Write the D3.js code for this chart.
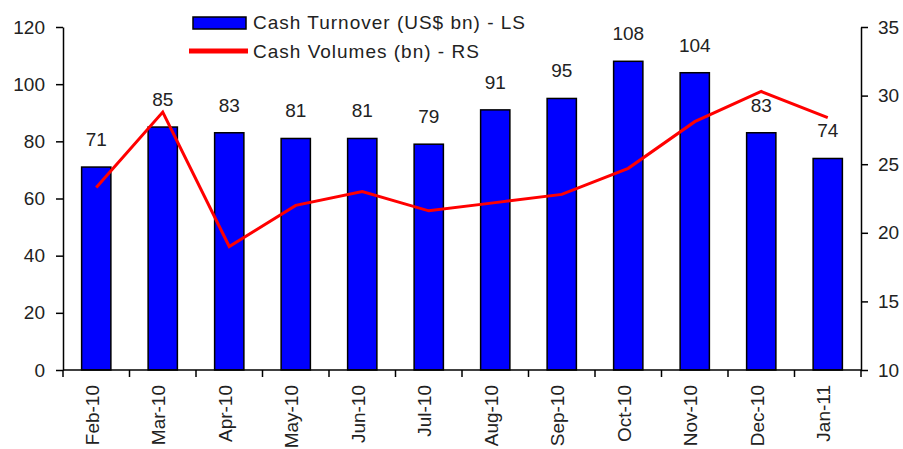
<!DOCTYPE html>
<html lang="en">
<head>
    <meta charset="UTF-8">
    <title>Cash Turnover vs Cash Volumes</title>
    <script src="https://cdn.jsdelivr.net/npm/d3@7"></script>
    <style>
        body {
            margin: 0;
            background: #fff;
        }

        svg text {
            font-family: "Liberation Sans", Arial, sans-serif;
            font-size: 19px;
            fill: #222;
        }

        .axis path, .axis line {
            stroke: #000;
            stroke-width: 1.5px;
        }
    </style>
</head>
<body>
<svg id="chart" width="903" height="449"></svg>
<script>
    var months = ['Feb-10', 'Mar-10', 'Apr-10', 'May-10', 'Jun-10', 'Jul-10',
        'Aug-10', 'Sep-10', 'Oct-10', 'Nov-10', 'Dec-10', 'Jan-11'];
    var turnover = [71, 85, 83, 81, 81, 79, 91, 95, 108, 104, 83, 74];
    var volumes = [23.3, 28.8, 19.0, 22.0, 23.0, 21.6, 22.2, 22.8, 24.7, 28.1, 30.3, 28.4];
    var leftTicks = [0, 20, 40, 60, 80, 100, 120];
    var rightTicks = [10, 15, 20, 25, 30, 35];
    var seriesNames = ['Cash Turnover (US$ bn) - LS', 'Cash Volumes (bn) - RS'];

    var svg = d3.select('#chart');
    var plot = {left: 63, right: 861, top: 27, bottom: 370};

    var x = d3.scaleBand().domain(months).range([plot.left, plot.right]).paddingInner(0.56).paddingOuter(0.28);
    var xTicks = d3.scaleBand().domain(months).range([plot.left, plot.right]);
    var yL = d3.scaleLinear().domain([0, 120]).range([plot.bottom, plot.top]);
    var yR = d3.scaleLinear().domain([10, 35]).range([plot.bottom, plot.top]);

    // bars
    svg.append('g').selectAll('rect')
        .data(turnover)
        .enter()
        .append('rect')
        .attr('x', (d, i) => x(months[i]))
        .attr('y', d => yL(d))
        .attr('width', x.bandwidth())
        .attr('height', d => plot.bottom - yL(d))
        .attr('fill', '#0000ff')
        .attr('stroke', '#000')
        .attr('stroke-width', 1.5);

    // bar labels
    svg.append('g').selectAll('text')
        .data(turnover)
        .enter()
        .append('text')
        .attr('x', (d, i) => x(months[i]) + x.bandwidth() / 2)
        .attr('y', d => yL(d) - 21)
        .attr('text-anchor', 'middle')
        .text(d => d);

    // line
    var line = d3.line()
        .x((d, i) => xTicks(months[i]) + xTicks.bandwidth() / 2)
        .y(d => yR(d));
    svg.append('path')
        .datum(volumes)
        .attr('d', line)
        .attr('fill', 'none')
        .attr('stroke', '#ff0000')
        .attr('stroke-width', 3);

    // axes
    var gL = svg.append('g').attr('class', 'axis')
        .attr('transform', 'translate(' + plot.left + ',0)')
        .call(d3.axisLeft(yL).tickValues(leftTicks).tickSize(7).tickSizeOuter(0).tickPadding(11));
    var gR = svg.append('g').attr('class', 'axis')
        .attr('transform', 'translate(' + plot.right + ',0)')
        .call(d3.axisRight(yR).tickValues(rightTicks).tickSize(7).tickSizeOuter(0).tickPadding(10));

    var gX = svg.append('g').attr('class', 'axis')
        .attr('transform', 'translate(0,' + plot.bottom + ')');
    gX.append('line')
        .attr('x1', plot.left).attr('x2', plot.right)
        .attr('y1', 0).attr('y2', 0);
    gX.selectAll('line.tick')
        .data(months.concat(['end']))
        .enter()
        .append('line')
        .attr('class', 'tick')
        .attr('x1', (d, i) => plot.left + i * xTicks.step())
        .attr('x2', (d, i) => plot.left + i * xTicks.step())
        .attr('y1', 0).attr('y2', 7);
    gX.selectAll('text')
        .data(months)
        .enter()
        .append('text')
        .attr('transform', d => 'translate(' + (xTicks(d) + xTicks.bandwidth() / 2 - 4) + ',15) rotate(-90)')
        .attr('dy', '0.35em')
        .attr('text-anchor', 'end')
        .text(d => d);

    [gL, gR].forEach(function (g) {
        g.selectAll('text').attr('fill', '#222').style('font-size', '19px')
            .style('font-family', '"Liberation Sans", Arial, sans-serif');
    });

    // legend
    var lg = svg.append('g');
    lg.append('rect')
        .attr('x', 193).attr('y', 17)
        .attr('width', 53).attr('height', 12)
        .attr('fill', '#0000ff').attr('stroke', '#000').attr('stroke-width', 1.5);
    lg.append('line')
        .attr('x1', 189).attr('x2', 248)
        .attr('y1', 51).attr('y2', 51)
        .attr('stroke', '#ff0000').attr('stroke-width', 5);
    lg.selectAll('text')
        .data(seriesNames)
        .enter()
        .append('text')
        .attr('x', 253)
        .attr('y', (d, i) => 29 + i * 29)
        .attr('letter-spacing', '1px')
        .text(d => d);
</script>
</body>
</html>
